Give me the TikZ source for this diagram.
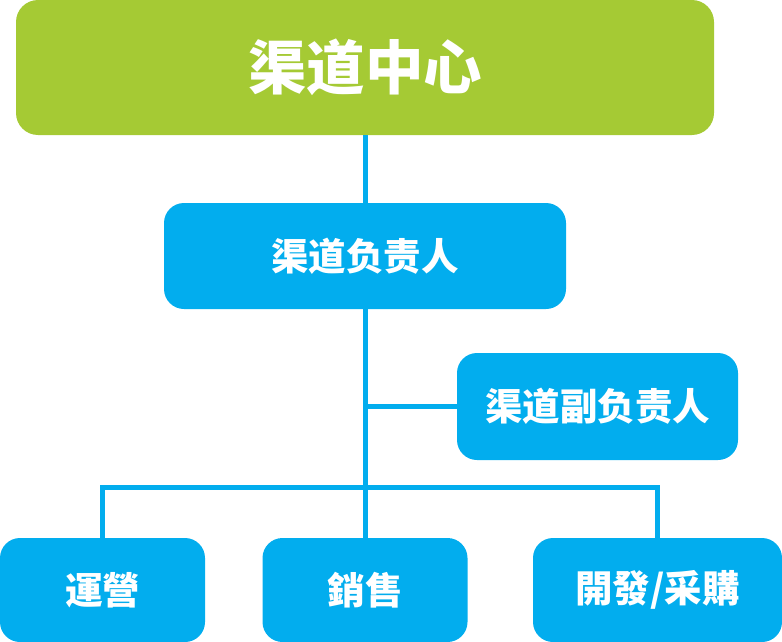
\documentclass[tikz,border=0pt]{standalone}
\usepackage{fontspec}
\setmainfont{Noto Sans CJK SC}
\usepackage{xcolor}
\usepackage{tikz}

\definecolor{leafgreen}{RGB}{165,202,52}
\definecolor{skyblue}{RGB}{2,173,238}

\begin{document}
\begin{tikzpicture}[x=1pt, y=-1pt,
    box/.style={fill=skyblue, rounded corners=20pt, text=white, font=\bfseries\fontsize{37.5}{42}\selectfont, inner sep=0pt},
    link/.style={draw=skyblue, line width=5pt}]
    \useasboundingbox (0,0) rectangle (782,642);

    % Top box
    \node[box, fill=leafgreen, rounded corners=22pt, minimum width=698pt, minimum height=135pt,
      font=\bfseries\fontsize{58.5}{64}\selectfont] (centre) at (365,67.5) {渠道中心};

    % Head and deputy
    \node[box, minimum width=402pt, minimum height=106pt] (head) at (365,256) {渠道负责人};
    \node[box, minimum width=281pt, minimum height=107pt] (vice) at (597.5,406.5) {渠道副负责人};

    % Departments
    \node[box, minimum width=205pt, minimum height=104pt] (ops) at (102.5,590) {運營};
    \node[box, minimum width=205pt, minimum height=104pt] (sales) at (365,590) {銷售};
    \node[box, minimum width=249pt, minimum height=104pt] (dev) at (657.5,590) {開發/采購};

    % Connectors
    \coordinate (bar) at (365,487);
    \draw[link] (centre.south) -- (head.north);
    \draw[link] (head.south) -- (sales.north);
    \draw[link] (vice.west) -- (vice.west -| head.south);
    \draw[link] (ops.north) -- (ops.north |- bar) -- (dev.north |- bar) -- (dev.north);
\end{tikzpicture}
\end{document}
